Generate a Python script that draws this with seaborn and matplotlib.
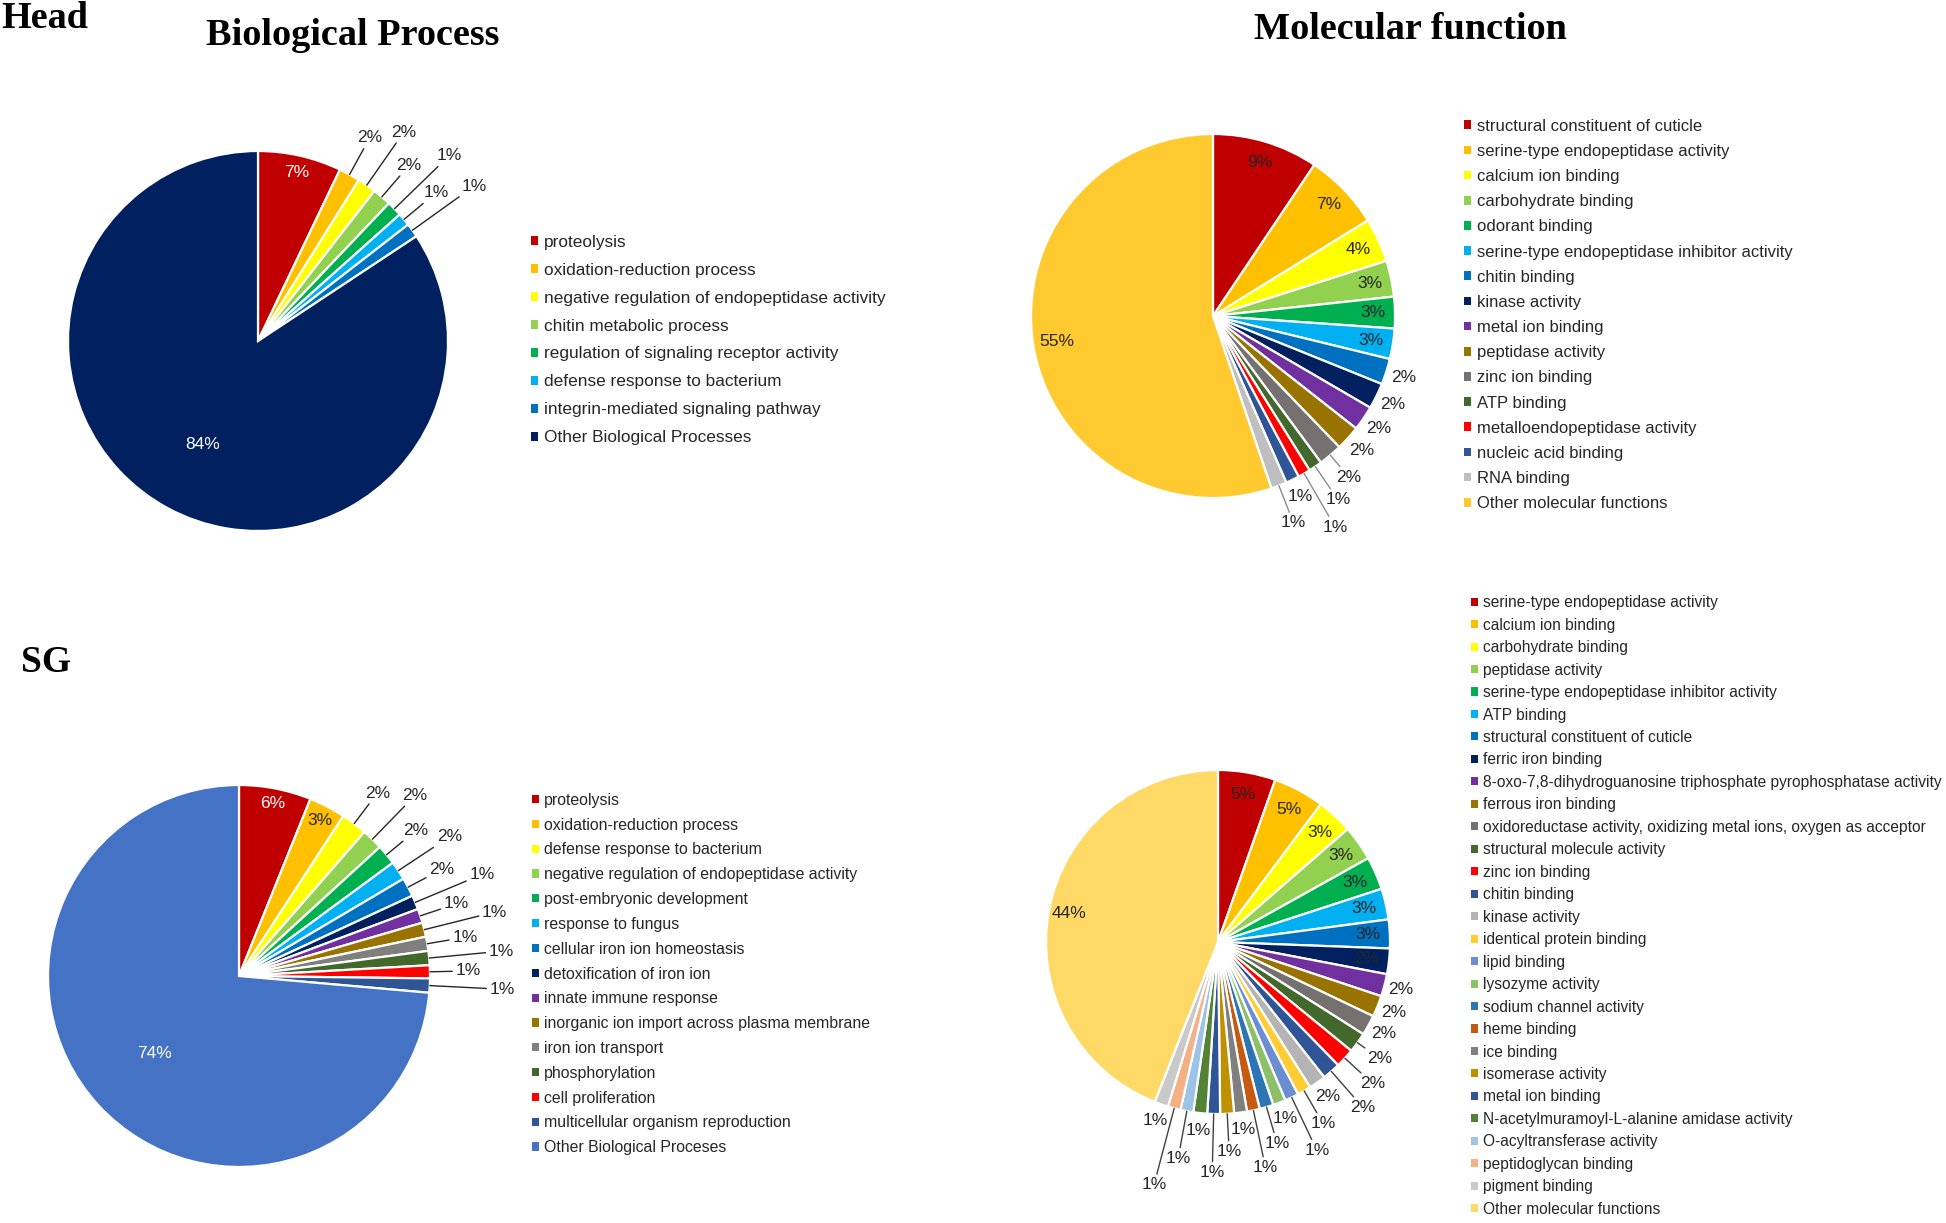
import numpy as np
import matplotlib
matplotlib.use("Agg")
import matplotlib.pyplot as plt
from matplotlib.patches import Patch
from matplotlib.colors import to_rgb
import seaborn as sns

sns.set_theme(style="white")
plt.rcParams['font.family'] = ['Liberation Sans', 'DejaVu Sans']

W, H = 1946, 1223

# Head - biological process
head_bp_names = ['proteolysis', 'oxidation-reduction process',
                 'negative regulation of endopeptidase activity', 'chitin metabolic process',
                 'regulation of signaling receptor activity', 'defense response to bacterium',
                 'integrin-mediated signaling pathway', 'Other Biological Processes']
head_bp_values = [7.1, 1.8, 1.6, 1.6, 1.3, 1.1, 1.2, 84.3]
head_bp_colors = ['#C00000', '#FFC000', '#FFFF00', '#92D050', '#00B050', '#00B0F0',
                  '#0070C0', '#002060']

# Head - molecular function
head_mf_names = ['structural constituent of cuticle', 'serine-type endopeptidase activity',
                 'calcium ion binding', 'carbohydrate binding', 'odorant binding',
                 'serine-type endopeptidase inhibitor activity', 'chitin binding',
                 'kinase activity', 'metal ion binding', 'peptidase activity',
                 'zinc ion binding', 'ATP binding', 'metalloendopeptidase activity',
                 'nucleic acid binding', 'RNA binding', 'Other molecular functions']
head_mf_values = [9.4, 6.8, 3.9, 3.2, 2.8, 2.7, 2.3, 2.3, 2.2, 2.2, 2.1, 1.2, 1.1, 1.2, 1.4, 55.2]
head_mf_colors = ['#C00000', '#FFC000', '#FFFF00', '#92D050', '#00B050', '#00B0F0',
                  '#0070C0', '#002060', '#7030A0', '#997300', '#767171', '#43682B',
                  '#FF0000', '#2F5597', '#BFBFBF', '#FFCA2F']

# SG - biological process
sg_bp_names = ['proteolysis', 'oxidation-reduction process', 'defense response to bacterium',
               'negative regulation of endopeptidase activity', 'post-embryonic development',
               'response to fungus', 'cellular iron ion homeostasis', 'detoxification of iron ion',
               'innate immune response', 'inorganic ion import across plasma membrane',
               'iron ion transport', 'phosphorylation', 'cell proliferation',
               'multicellular organism reproduction', 'Other Biological Proceses']
sg_bp_values = [6.1, 3.1, 2.2, 1.8, 1.7, 1.6, 1.6, 1.2, 1.2, 1.2, 1.2, 1.2, 1.1, 1.2, 73.6]
sg_bp_colors = ['#C00000', '#FFC000', '#FFFF00', '#92D050', '#00B050', '#00B0F0',
                '#0070C0', '#002060', '#7030A0', '#997300', '#7F7F7F', '#43682B',
                '#FF0000', '#2F5597', '#4472C4']

# SG - molecular function
sg_mf_names = ['serine-type endopeptidase activity', 'calcium ion binding',
               'carbohydrate binding', 'peptidase activity',
               'serine-type endopeptidase inhibitor activity', 'ATP binding',
               'structural constituent of cuticle', 'ferric iron binding',
               '8-oxo-7,8-dihydroguanosine triphosphate pyrophosphatase activity',
               'ferrous iron binding',
               'oxidoreductase activity, oxidizing metal ions, oxygen as acceptor',
               'structural molecule activity', 'zinc ion binding', 'chitin binding',
               'kinase activity', 'identical protein binding', 'lipid binding',
               'lysozyme activity', 'sodium channel activity', 'heme binding', 'ice binding',
               'isomerase activity', 'metal ion binding',
               'N-acetylmuramoyl-L-alanine amidase activity', 'O-acyltransferase activity',
               'peptidoglycan binding', 'pigment binding', 'Other molecular functions']
sg_mf_values = [5.4, 4.8, 3.4, 3.3, 3.1, 2.9, 2.7, 2.4, 2.1, 2.0, 1.9, 1.9, 1.8, 1.7, 1.6,
                1.3, 1.3, 1.2, 1.3, 1.2, 1.2, 1.3, 1.2, 1.3, 1.2, 1.2, 1.3, 44.0]
sg_mf_colors = ['#C00000', '#FFC000', '#FFFF00', '#92D050', '#00B050', '#00B0F0',
                '#0070C0', '#002060', '#7030A0', '#997300', '#767171', '#43682B',
                '#FF0000', '#2F5597', '#B4B4B4', '#FFCC33', '#6A8ED0', '#8CC168',
                '#2E75B6', '#C55A11', '#7F7F7F', '#BF9000', '#2F5597', '#548235',
                '#9DC3E6', '#F4B183', '#C9C9C9', '#FFD966']

fig = plt.figure(figsize=(W / 100, H / 100), dpi=100)

TXT = '#262626'
PCT_FS = 12.5


def draw_pie(cx, cy, r, values, colors, names, leg_x, leg_y, leg_fs, leg_ls,
             inside_dist, big_dist, out_base, light_on_dark, always_line, line_color):
    L = 1.6
    S = 2 * L * r
    ax = fig.add_axes([(cx - S / 2) / W, 1 - (cy + S / 2) / H, S / W, S / H])
    wedges, _ = ax.pie(values, colors=colors, startangle=90, counterclock=False,
                       wedgeprops=dict(edgecolor='white', linewidth=1.6))
    ax.set_xlim(-L, L)
    ax.set_ylim(-L, L)
    ax.set_aspect('equal')
    ax.axis('off')

    # rough size of a "1%" label in data units, used to keep labels apart
    bw, bh = 32 / r, 20 / r
    placed = []
    last = len(values) - 1
    for i, (w, v, c) in enumerate(zip(wedges, values, colors)):
        th = np.deg2rad((w.theta1 + w.theta2) / 2)
        txt = f"{v:.0f}%"
        if v >= 2.35:
            d = big_dist if i == last else inside_dist
            rr, gg, bb = to_rgb(c)
            lum = 0.299 * rr + 0.587 * gg + 0.114 * bb
            tc = 'white' if (light_on_dark and lum < 0.5) else TXT
            ax.text(d * np.cos(th), d * np.sin(th), txt, ha='center', va='center',
                    fontsize=PCT_FS, color=tc)
            continue
        d = out_base
        for _ in range(25):
            x, y = d * np.cos(th), d * np.sin(th)
            if all(abs(x - px) >= bw or abs(y - py) >= bh for px, py in placed):
                break
            d += 0.06
        placed.append((x, y))
        if always_line or d > out_base + 0.01:
            ax.annotate(txt, xy=(np.cos(th), np.sin(th)), xytext=(x, y),
                        ha='center', va='center', fontsize=PCT_FS, color=TXT,
                        arrowprops=dict(arrowstyle='-', color=line_color, lw=1.0,
                                        shrinkA=0, shrinkB=0))
        else:
            ax.text(x, y, txt, ha='center', va='center', fontsize=PCT_FS, color=TXT)

    handles = [Patch(facecolor=c, edgecolor='none') for c in colors]
    fig.legend(handles, names, loc='center left', bbox_to_anchor=(leg_x / W, 1 - leg_y / H),
               frameon=False, fontsize=leg_fs, handlelength=0.42, handleheight=0.42,
               handletextpad=0.35, labelspacing=leg_ls, borderpad=0, borderaxespad=0,
               labelcolor=TXT)


draw_pie(258, 341, 190, head_bp_values, head_bp_colors, head_bp_names,
         531, 340, 12.4, 0.75, 0.91, 0.62, 1.22, True, True, '#262626')
draw_pie(1213, 316, 182, head_mf_values, head_mf_colors, head_mf_names,
         1464, 315, 12, 0.61, 0.88, 0.87, 1.1, False, False, '#8C8C8C')
draw_pie(239, 976, 191, sg_bp_values, sg_bp_colors, sg_bp_names,
         532, 974, 11.4, 0.62, 0.92, 0.6, 1.2, True, True, '#262626')
draw_pie(1218, 942, 172, sg_mf_values, sg_mf_colors, sg_mf_names,
         1471, 906, 11.2, 0.48, 0.87, 0.88, 1.1, False, False, '#404040')

serif = ['Liberation Serif', 'DejaVu Serif']
fig.text(1 / W, 1 - 28 / H, 'Head', family=serif, fontweight='bold', fontsize=27.5,
         va='baseline', ha='left', color='black')
fig.text(353 / W, 1 - 45 / H, 'Biological Process', family=serif, fontweight='bold',
         fontsize=27.5, va='baseline', ha='center', color='black')
fig.text(1410 / W, 1 - 39 / H, 'Molecular function', family=serif, fontweight='bold',
         fontsize=27.5, va='baseline', ha='center', color='black')
fig.text(21 / W, 1 - 672 / H, 'SG', family=serif, fontweight='bold', fontsize=27,
         va='baseline', ha='left', color='black')

fig.savefig('out.png', dpi=100, facecolor='white')
